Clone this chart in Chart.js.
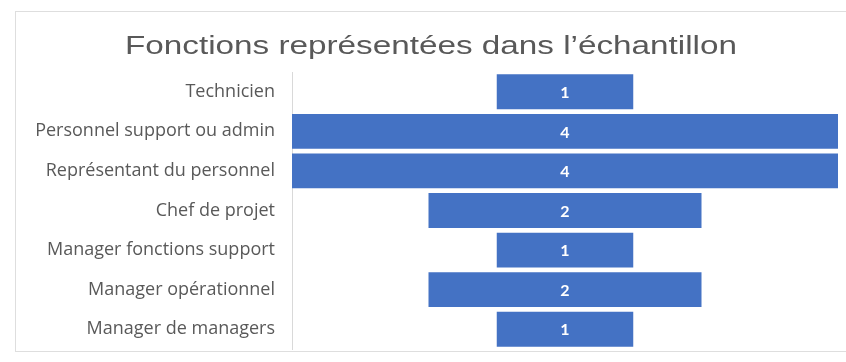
<!DOCTYPE html>
<html>
<head>
<meta charset="utf-8">
<script src="https://cdn.jsdelivr.net/npm/chart.js@4/dist/chart.umd.min.js"></script>
<style>
  html, body { margin: 0; padding: 0; background: #fff; }
  #wrap { position: relative; width: 846px; height: 362px; overflow: hidden; }
  #frame { position: absolute; left: 15px; top: 11px; width: 840px; height: 341px; border: 1px solid #dedede; box-sizing: border-box; }
  canvas { position: absolute; left: 0; top: 0; }
</style>
</head>
<body>
<div id="wrap">
  <div id="frame"></div>
  <canvas id="c" width="846" height="362"></canvas>
</div>
<script>
const titleText = "Fonctions représentées dans l’échantillon";
const categories = [
  "Technicien",
  "Personnel support ou admin",
  "Représentant du personnel",
  "Chef de projet",
  "Manager fonctions support",
  "Manager opérationnel",
  "Manager de managers"
];
const counts = [1, 4, 4, 2, 1, 2, 1];

const centeredBars = counts.map(v => [-v / 2, v / 2]);

const valueLabels = {
  id: 'valueLabels',
  afterDatasetsDraw(chart) {
    const ctx = chart.ctx;
    const meta = chart.getDatasetMeta(0);
    ctx.save();
    ctx.fillStyle = '#ffffff';
    ctx.font = 'bold 16px Lato';
    ctx.textAlign = 'center';
    ctx.textBaseline = 'middle';
    meta.data.forEach((bar, i) => {
      const p = bar.getProps(['x', 'base', 'y'], true);
      ctx.fillText(String(counts[i]), (p.x + p.base) / 2, p.y + 1);
    });
    ctx.restore();
  }
};

// Title drawn slightly widened, like the reference
const wideTitle = {
  id: 'wideTitle',
  afterDraw(chart) {
    const ctx = chart.ctx;
    ctx.save();
    ctx.font = '26px "Liberation Sans"';
    ctx.fillStyle = '#595959';
    ctx.textAlign = 'center';
    ctx.textBaseline = 'alphabetic';
    const w = ctx.measureText(titleText).width;
    const sx = 612 / w;
    ctx.translate(431, 54);
    ctx.scale(sx, 1);
    ctx.fillText(titleText, 0, 0);
    ctx.restore();
  }
};

new Chart(document.getElementById('c'), {
  type: 'bar',
  data: {
    labels: categories,
    datasets: [{
      data: centeredBars,
      backgroundColor: '#4472C4',
      borderWidth: 0,
      borderSkipped: false,
      categoryPercentage: 1,
      barPercentage: 0.88
    }]
  },
  options: {
    indexAxis: 'y',
    responsive: false,
    animation: false,
    layout: { padding: { top: 72, right: 8, bottom: 13, left: 0 } },
    plugins: {
      legend: { display: false },
      tooltip: { enabled: false },
      title: { display: false }
    },
    scales: {
      x: {
        display: false,
        min: -2,
        max: 2
      },
      y: {
        grid: { display: false, drawTicks: false },
        border: { display: true, color: '#d9d9d9', width: 1 },
        ticks: {
          color: '#595959',
          font: { family: 'Open Sans', size: 18 },
          padding: 17
        },
        afterFit(scale) {
          scale.width = 292;
          scale.paddingTop = 0;
          scale.paddingBottom = 0;
        }
      }
    }
  },
  plugins: [valueLabels, wideTitle]
});
</script>
</body>
</html>
